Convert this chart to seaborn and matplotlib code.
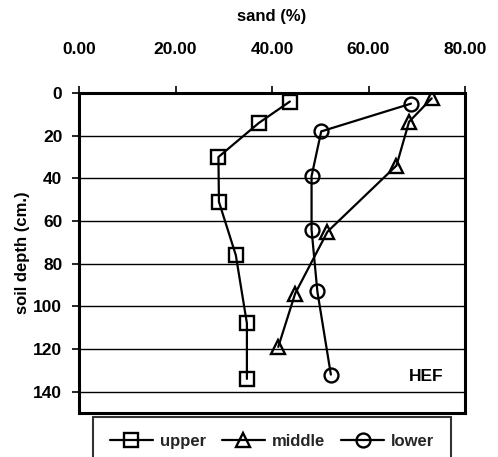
import matplotlib
matplotlib.use("Agg")
import matplotlib.pyplot as plt
import seaborn as sns
import pandas as pd

# Sand content (%) by soil depth (cm) for three slope positions
upper_sand = [43.7, 37.3, 28.9, 29.0, 32.5, 34.8, 34.8]
upper_depth = [4, 14, 30, 51, 76, 108, 134]

middle_sand = [73.1, 68.4, 65.8, 51.5, 44.8, 41.3]
middle_depth = [2.5, 13.5, 34, 65, 94, 119]

lower_sand = [68.8, 50.2, 48.2, 48.2, 49.4, 52.2]
lower_depth = [5, 18, 39, 64, 93, 132]

series_names = ["upper", "middle", "lower"]
series_markers = ["s", "^", "o"]
x_ticks = [0, 20, 40, 60, 80]
y_ticks = [0, 20, 40, 60, 80, 100, 120, 140]

sns.set_theme(style="white")
plt.rcParams["font.family"] = ["Liberation Sans", "DejaVu Sans"]
plt.rcParams["font.weight"] = "bold"
plt.rcParams["axes.labelweight"] = "bold"

fig = plt.figure(figsize=(4.98, 4.57), dpi=100)
ax = fig.add_axes([79 / 498, 1 - 413 / 457, (465 - 79) / 498, (413 - 93) / 457])

for y in y_ticks[1:]:
    ax.axhline(y, color="black", lw=1.0, zorder=1)

for name, marker, xs, ys in zip(series_names, series_markers,
                                [upper_sand, middle_sand, lower_sand],
                                [upper_depth, middle_depth, lower_depth]):
    df = pd.DataFrame({"sand": xs, "depth": ys})
    sns.lineplot(data=df, x="sand", y="depth", sort=False, estimator=None,
                 color="black", linestyle="-", linewidth=1.6,
                 marker=marker, markersize=10, markeredgewidth=1.7,
                 markerfacecolor="none", markeredgecolor="black",
                 label=name, ax=ax, zorder=3)

ax.set_xlim(0, 80)
ax.set_ylim(150, 0)
ax.xaxis.tick_top()
ax.xaxis.set_label_position("top")
ax.set_xticks(x_ticks)
ax.set_xticklabels([f"{v:.2f}" for v in x_ticks])
ax.set_yticks(y_ticks)
ax.set_yticklabels([str(v) for v in y_ticks])

ax.tick_params(axis="x", which="both", top=True, bottom=False, direction="out",
               length=5, width=1.2, color="black", pad=21, labelsize=12.5,
               labelcolor="black")
ax.tick_params(axis="y", which="both", left=True, direction="out",
               length=5, width=1.2, color="black", pad=7, labelsize=12.5,
               labelcolor="black")

ax.set_xlabel("sand (%)", fontsize=12, labelpad=15, color="black",
              fontweight="bold")
ax.set_ylabel("soil depth (cm.)", fontsize=12, labelpad=2, color="black",
              fontweight="bold")

for side in ["left", "right", "top", "bottom"]:
    ax.spines[side].set_visible(True)
    ax.spines[side].set_color("black")
    ax.spines[side].set_linewidth(2.2)

ax.text(72, 133, "HEF", fontsize=12.5, ha="center", va="center",
        color="black", fontweight="bold")

handles, labels = ax.get_legend_handles_labels()
ax.get_legend().remove()
leg = fig.legend(handles, labels, loc="upper left",
                 bbox_to_anchor=(93 / 498, 0, 358 / 498, 1 - 417 / 457),
                 mode="expand", ncol=3,
                 prop={"size": 12, "weight": "bold"},
                 frameon=True, fancybox=False,
                 edgecolor="black", handlelength=2.6, columnspacing=0.8,
                 handletextpad=0.4, borderpad=1.0, borderaxespad=0)
leg.get_frame().set_linewidth(1.5)

fig.savefig("out.png", dpi=100)
